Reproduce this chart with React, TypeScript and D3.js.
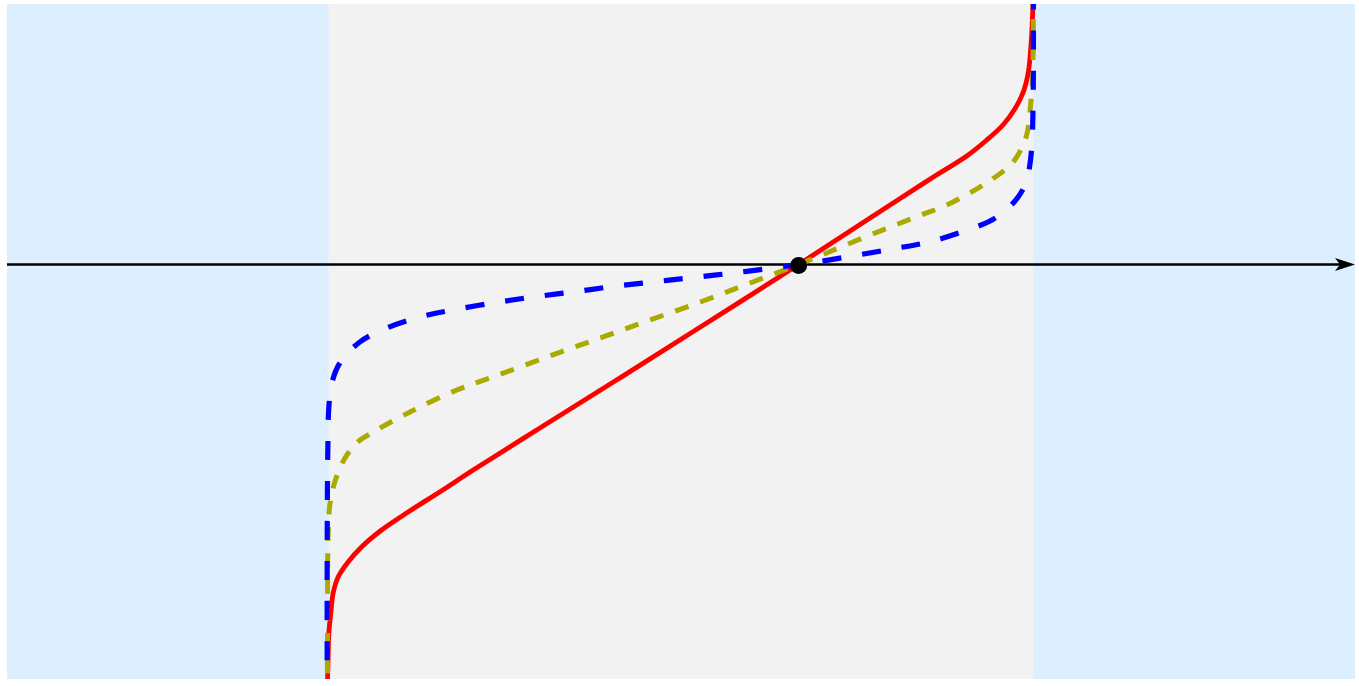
import React from "react";
import * as d3 from "d3";

// plot extent in data units
const xDomain: [number, number] = [-0.457, 1.457];
const yDomain: [number, number] = [-4.145, 2.605];

// feasible interval (grey) and outside regions (blue)
const bandEdges = [-0.457, 0, 1, 1.457];
const bandKinds = ["outside", "inside", "outside"];

const centerPoint = { x: 0.667, y: 0 };

// solid red curve
const redX = [-0.0021, -0.0018, -0.001, 0, 0.0028, 0.0061, 0.0132, 0.0274, 0.0464, 0.0749, 0.1126, 0.1601, 0.205, 0.2997, 0.4091, 0.527, 0.667, 0.7401, 0.8111, 0.8584, 0.9058, 0.9342, 0.9578, 0.9744, 0.9862, 0.9933, 0.9964, 0.9986, 0.9997, 1.0];
const redY = [-4.305, -4.135, -3.925, -3.685, -3.485, -3.285, -3.125, -2.975, -2.825, -2.655, -2.475, -2.262, -2.055, -1.635, -1.153, -0.628, 0, 0.335, 0.66, 0.875, 1.085, 1.245, 1.4, 1.56, 1.728, 1.928, 2.145, 2.395, 2.595, 2.795];

// short-dashed olive curve
const oliveX = [-0.0021, -0.002, -0.0018, -0.0017, -0.001, 0.0014, 0.0085, 0.0227, 0.0416, 0.0582, 0.1151, 0.1818, 0.233, 0.3097, 0.3849, 0.456, 0.5312, 0.598, 0.667, 0.6946, 0.7756, 0.8409, 0.8774, 0.9129, 0.9436, 0.972, 0.9901, 0.9957, 0.999, 1.0, 1.0003, 1.0003];
const oliveY = [-4.355, -3.855, -3.325, -2.985, -2.685, -2.405, -2.172, -1.938, -1.772, -1.695, -1.475, -1.255, -1.125, -0.925, -0.735, -0.555, -0.365, -0.185, 0, 0.08, 0.315, 0.495, 0.595, 0.728, 0.862, 1.028, 1.278, 1.545, 1.845, 2.145, 2.645, 2.795];

// long-dashed blue curve
const blueX = [-0.0024, -0.0024, -0.0021, -0.0014, 0, 0.0043, 0.0156, 0.044, 0.0824, 0.1293, 0.1761, 0.233, 0.2898, 0.3466, 0.4034, 0.4602, 0.517, 0.5739, 0.6307, 0.667, 0.6847, 0.7472, 0.804, 0.8551, 0.9105, 0.9389, 0.9616, 0.9787, 0.9901, 0.9957, 0.9986, 0.9997, 1.0003, 1.0004, 1.0004];
const blueY = [-4.355, -3.155, -2.325, -1.825, -1.425, -1.185, -0.985, -0.775, -0.635, -0.525, -0.455, -0.385, -0.325, -0.275, -0.22, -0.175, -0.13, -0.085, -0.035, 0, 0.015, 0.09, 0.16, 0.23, 0.355, 0.435, 0.545, 0.675, 0.825, 1.015, 1.245, 1.515, 1.875, 2.345, 2.795];

const W = 1359;
const H = 686;

const series = [
  { key: "red", xs: redX, ys: redY, color: "#ff0000", dash: null, width: 4.8 },
  { key: "olive", xs: oliveX, ys: oliveY, color: "#aaaa00", dash: "14,12.5", width: 5 },
  { key: "blue", xs: blueX, ys: blueY, color: "#0000ff", dash: "19,21", width: 5.2 },
];

export default function App() {
  const x = d3.scaleLinear().domain(xDomain).range([7, 1355]);
  const y = d3.scaleLinear().domain(yDomain).range([679, 4]);

  const line = d3
    .line<[number, number]>()
    .x((d) => x(d[0]))
    .y((d) => y(d[1]))
    .curve(d3.curveCatmullRom.alpha(0.5));

  const bandFill: Record<string, string> = { outside: "#ddeeff", inside: "#f2f2f2" };

  const x0 = x(xDomain[0]);
  const x1 = x(xDomain[1]);
  const y0 = y(0);

  return (
    <svg
      width={W}
      height={H}
      style={{ position: "absolute", left: 0, top: 0, background: "#fff" }}
    >
      <defs>
        <clipPath id="plot-clip">
          <rect x={x0} y={y(yDomain[1])} width={x1 - x0} height={y(yDomain[0]) - y(yDomain[1])} />
        </clipPath>
      </defs>

      {bandKinds.map((k, i) => (
        <rect
          key={i}
          x={x(bandEdges[i])}
          y={y(yDomain[1])}
          width={x(bandEdges[i + 1]) - x(bandEdges[i])}
          height={y(yDomain[0]) - y(yDomain[1])}
          fill={bandFill[k]}
        />
      ))}

      {/* horizontal axis with arrow */}
      <line x1={x0} x2={x1 - 14} y1={y0} y2={y0} stroke="#000" strokeWidth={2.4} />
      <path
        d={`M${x1},${y0} L${x1 - 20},${y0 - 6.5} L${x1 - 15},${y0} L${x1 - 20},${y0 + 6.5} Z`}
        fill="#000"
      />

      <g clipPath="url(#plot-clip)">
        {series.map((s) => (
          <path
            key={s.key}
            d={line(s.xs.map((v, i) => [v, s.ys[i]] as [number, number])) || ""}
            fill="none"
            stroke={s.color}
            strokeWidth={s.width}
            strokeDasharray={s.dash || undefined}
          />
        ))}
      </g>

      <circle cx={x(centerPoint.x)} cy={y(centerPoint.y) + 1} r={8.5} fill="#000" />
    </svg>
  );
}
